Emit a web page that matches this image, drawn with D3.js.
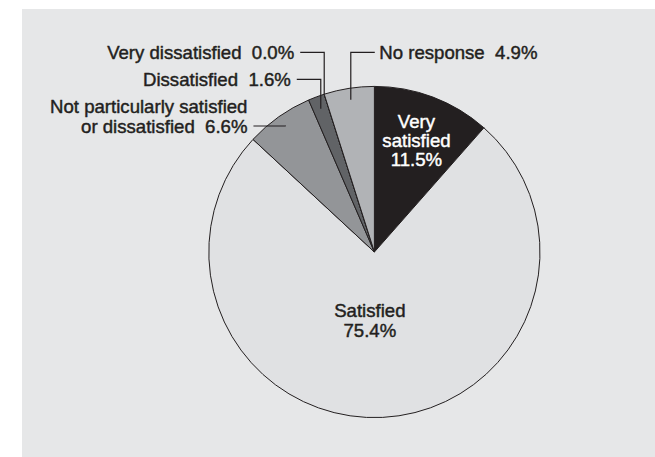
<!DOCTYPE html>
<html lang="en">
  <head>
    <meta charset="utf-8">
    <title>Satisfaction pie</title>
    <style>
      body { margin: 0; background: #fff; }
      svg text { font-family: "Liberation Sans", Arial, sans-serif; font-size: 18.6px; white-space: pre;
                 stroke-width: 0.45px; stroke-linejoin: round; }
    </style>
  </head>
  <script src="https://cdn.jsdelivr.net/npm/d3@7/dist/d3.min.js" charset="utf-8"></script>
  <body>
    <script type="text/javascript">

      // data, clockwise from 12 o'clock
      var categories = ["Very satisfied", "Satisfied", "Not particularly satisfied or dissatisfied",
                        "Dissatisfied", "Very dissatisfied", "No response"];
      var shares = [11.5, 75.4, 6.6, 1.6, 0.0, 4.9];
      var labelText = [["Very", "satisfied"], ["Satisfied"], ["Not particularly satisfied", "or dissatisfied"],
                       ["Dissatisfied"], ["Very dissatisfied"], ["No response"]];
      var fills = ["#231f20", "#e0e1e3", "#939598", "#616366", "#616366", "#b1b3b6"];
      var textFill = ["#ffffff", "#231f20"];

      // layout
      var w = 655, h = 457;
      var cx = 374.4, cy = 252, R = 165.6;
      var inside = [0, 1];                    // labels drawn inside the slice
      var insideR = {0: 119, 1: 69}, insideDx = {0: 0, 1: -8}, insideLH = {0: 19, 1: 20};
      // outside labels: y of horizontal leader, its run, which side the text sits
      var leaders = [
        {i: 2, y: 126,  run: 32, side: "left",  r: 154},
        {i: 3, y: 79.3, run: 24, side: "left",  r: 153},
        {i: 4, y: 52.3, run: 24, side: "left",  r: R},
        {i: 5, y: 52.3, run: 24, side: "right", r: 154}
      ];

      var fmt = function(v) { return d3.format(".1f")(v) + "%"; };

      var svg = d3.select("body").append("svg")
          .attr("width", w)
          .attr("height", h);

      svg.append("rect")
          .attr("x", 22).attr("y", 9)
          .attr("width", w - 22).attr("height", h - 9)
          .attr("fill", "#e6e7e8");

      var g = svg.append("g")
          .attr("transform", "translate(" + cx + "," + cy + ")");

      var pie = d3.pie().sort(null).value(function(d) { return d; });
      var arcs = pie(shares);
      var arc = d3.arc().innerRadius(0).outerRadius(R);

      g.selectAll(".slice")
          .data(arcs)
        .enter().append("path")
          .attr("class", "slice")
          .attr("d", arc)
          .attr("fill", function(d, i) { return fills[i]; })
          .attr("stroke", "#231f20")
          .attr("stroke-width", 1)
          .attr("stroke-linejoin", "round");

      // labels inside slices
      inside.forEach(function(i) {
        var a = arcs[i];
        var c = d3.arc().innerRadius(insideR[i]).outerRadius(insideR[i]).centroid(a);
        var lines = labelText[i].concat([fmt(shares[i])]);
        var lh = insideLH[i];
        var t = g.append("text")
            .attr("text-anchor", "middle")
            .attr("fill", textFill[i])
            .attr("stroke", textFill[i]);
        lines.forEach(function(s, k) {
          t.append("tspan")
            .attr("x", c[0] + insideDx[i])
            .attr("y", c[1] + (k - (lines.length - 1) / 2) * lh + 6.5)
            .text(s);
        });
      });

      // labels outside with elbow leaders
      leaders.forEach(function(L) {
        var a = arcs[L.i];
        var p = d3.arc().innerRadius(L.r).outerRadius(L.r).centroid(a);
        var px = cx + p[0], py = cy + p[1];
        var x0 = L.side == "left" ? px - L.run : px + L.run;

        svg.append("path")
          .attr("d", d3.line()([[x0, L.y], [px, L.y], [px, py]]))
          .attr("fill", "none")
          .attr("stroke", "#231f20")
          .attr("stroke-width", 1.2);

        var lines = labelText[L.i].slice();
        lines[lines.length - 1] += "  " + fmt(shares[L.i]);
        var t = svg.append("text")
            .attr("fill", "#231f20")
            .attr("stroke", "#231f20")
            .attr("text-anchor", L.side == "left" ? "end" : "start");
        var tx = L.side == "left" ? x0 - 6 : x0 + 4.5;
        lines.forEach(function(s, k) {
          t.append("tspan")
            .attr("x", tx)
            .attr("y", L.y + 7 - (lines.length - 1 - k) * 19.6)
            .text(s);
        });
      });

    </script>
  </body>
</html>
